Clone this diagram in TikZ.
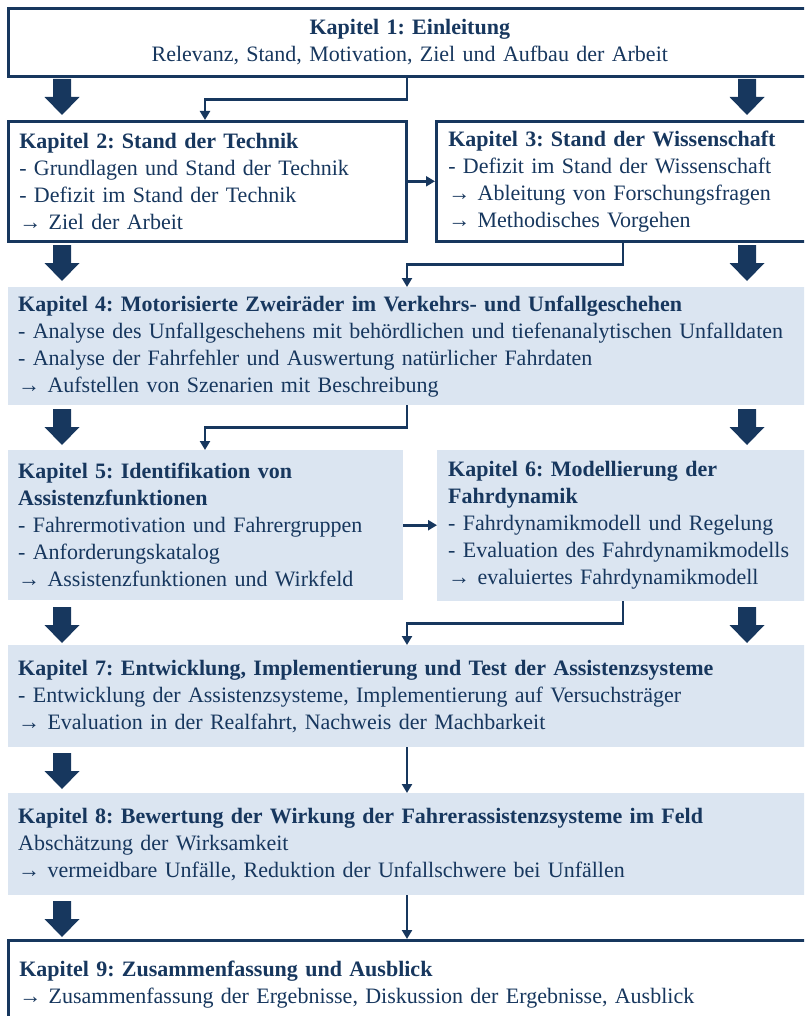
\documentclass[tikz,border=0pt]{standalone}
\usepackage{fontspec}
\setmainfont{Liberation Serif}
\usetikzlibrary{arrows.meta}
\definecolor{navy}{HTML}{17375E}
\definecolor{lblue}{HTML}{DBE5F1}
\frenchspacing
\begin{document}
\begin{tikzpicture}[x=1pt,y=-1pt,
  font=\fontsize{22}{27}\selectfont\frenchspacing, text=navy,
  boxbase/.style={rectangle, anchor=north west, inner xsep=11pt, inner ysep=0pt, align=left},
  wbox/.style={boxbase, draw=navy, line width=2.6pt, fill=white},
  fbox/.style={boxbase, fill=lblue},
  conn/.style={draw=navy, line width=2.6pt, -{Triangle[width=10pt,length=9pt]}},
  fatarrow/.pic={\fill[navy] (-9,0) -- (9,0) -- (9,18) -- (17.5,18) -- (0,36) -- (-17.5,18) -- (-9,18) -- cycle;}
]
\useasboundingbox (0,0) rectangle (804,1016);
\clip (0,0) rectangle (804,1016);

\coordinate (cL) at (205,0);
\coordinate (cM) at (407,0);
\coordinate (cR) at (623,0);

\node[wbox, align=center, minimum width=803pt, minimum height=68pt, text width=781pt] (b1) at (7,7)
  {\textbf{Kapitel 1: Einleitung}\\Relevanz, Stand, Motivation, Ziel und Aufbau der Arbeit};

\node[wbox, minimum width=398pt, minimum height=120pt, text width=376pt] (b2) at (7,120)
  {\textbf{Kapitel 2: Stand der Technik}\\- Grundlagen und Stand der Technik\\- Defizit im Stand der Technik\\→ Ziel der Arbeit};

\node[wbox, minimum width=375pt, minimum height=120pt, text width=351pt, inner xsep=12pt] (b3) at (435,120)
  {\textbf{Kapitel 3: Stand der Wissenschaft}\\- Defizit im Stand der Wissenschaft\\→ Ableitung von Forschungsfragen\\→ Methodisches Vorgehen};

\node[fbox, minimum width=802pt, minimum height=118pt, text width=782pt, inner xsep=10pt] (b4) at (8,287)
  {\textbf{Kapitel 4: Motorisierte Zweiräder im Verkehrs- und Unfallgeschehen}\\- Analyse des Unfallgeschehens mit behördlichen und tiefenanalytischen Unfalldaten\\- Analyse der Fahrfehler und Auswertung natürlicher Fahrdaten\\→ Aufstellen von Szenarien mit Beschreibung};

\node[fbox, minimum width=395pt, minimum height=150pt, text width=375pt, inner xsep=10pt] (b5) at (8,450)
  {\textbf{Kapitel 5: Identifikation von}\\\textbf{Assistenzfunktionen}\\- Fahrermotivation und Fahrergruppen\\- Anforderungskatalog\\→ Assistenzfunktionen und Wirkfeld};

\node[fbox, minimum width=373pt, minimum height=151pt, text width=351pt] (b6) at (437,450)
  {\textbf{Kapitel 6: Modellierung der}\\\textbf{Fahrdynamik}\\- Fahrdynamikmodell und Regelung\\- Evaluation des Fahrdynamikmodells\\→ evaluiertes Fahrdynamikmodell};

\node[fbox, minimum width=802pt, minimum height=102pt, text width=782pt, inner xsep=10pt] (b7) at (8,645)
  {\textbf{Kapitel 7: Entwicklung, Implementierung und Test der Assistenzsysteme}\\- Entwicklung der Assistenzsysteme, Implementierung auf Versuchsträger\\→ Evaluation in der Realfahrt, Nachweis der Machbarkeit};

\node[fbox, minimum width=802pt, minimum height=102pt, text width=782pt, inner xsep=10pt] (b8) at (8,793)
  {\textbf{Kapitel 8: Bewertung der Wirkung der Fahrerassistenzsysteme im Feld}\\Abschätzung der Wirksamkeit\\→ vermeidbare Unfälle, Reduktion der Unfallschwere bei Unfällen};

\node[wbox, minimum width=803pt, minimum height=88pt, text width=781pt] (b9) at (7,939)
  {\textbf{Kapitel 9: Zusammenfassung und Ausblick}\\→ Zusammenfassung der Ergebnisse, Diskussion der Ergebnisse, Ausblick};

% fat block arrows
\pic at (62,79) {fatarrow};
\pic at (747,79) {fatarrow};
\pic at (62,245) {fatarrow};
\pic at (747,245) {fatarrow};
\pic at (62,409) {fatarrow};
\pic at (747,409) {fatarrow};
\pic at (62,607) {fatarrow};
\pic at (747,607) {fatarrow};
\pic at (62,753) {fatarrow};
\pic at (62,901) {fatarrow};

% thin connectors
\draw[conn] (b1.south -| cM) -- ++(0,22) -| (b2.north -| cL);
\draw[conn] (b2.east) -- (b3.west);
\draw[conn] (b3.south -| cR) -- ++(0,22) -| (b4.north -| cM);
\draw[conn] (b4.south -| cM) -- ++(0,22) -| (b5.north -| cL);
\draw[conn] (b5.east) -- (b5.east -| b6.west);
\draw[conn] (b6.south -| cR) -- ++(0,22) -| (b7.north -| cM);
\draw[conn] (b7.south -| cM) -- (b8.north -| cM);
\draw[conn] (b8.south -| cM) -- (b9.north -| cM);
\end{tikzpicture}
\end{document}
